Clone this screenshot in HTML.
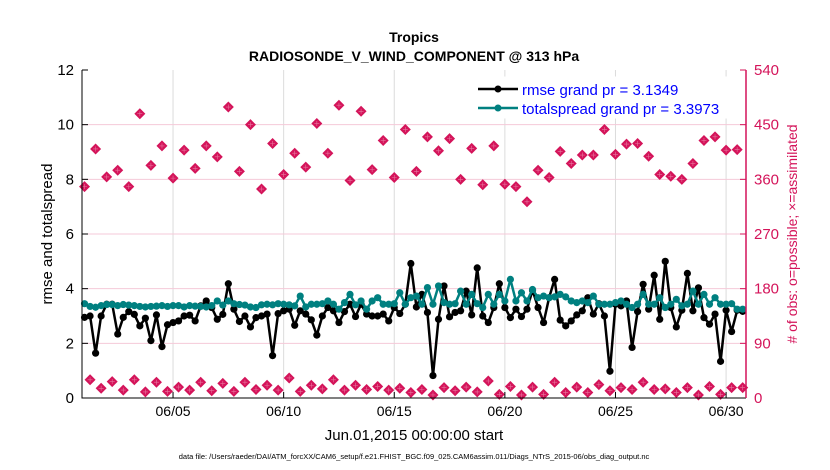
<!DOCTYPE html>
<html><head><meta charset="utf-8"><style>
html,body{margin:0;padding:0;background:#fff;}
svg{display:block;font-family:"Liberation Sans",Arial,sans-serif;}
</style></head><body>
<svg id="chart" width="830" height="470" viewBox="0 0 830 470" xmlns="http://www.w3.org/2000/svg">
<text x="414" y="42" text-anchor="middle" font-size="14" font-weight="bold">Tropics</text>
<text x="414" y="61" text-anchor="middle" font-size="14" font-weight="bold">RADIOSONDE_V_WIND_COMPONENT @ 313 hPa</text>
<g id="grid"></g>
<g id="series"></g>
<g id="axes"></g>
<text transform="translate(52,234) rotate(-90)" text-anchor="middle" font-size="15">rmse and totalspread</text>
<text transform="translate(797,234) rotate(-90)" text-anchor="middle" font-size="14" fill="#d4145a"># of obs: o=possible; ×=assimilated</text>
<text x="414" y="440" text-anchor="middle" font-size="15">Jun.01,2015 00:00:00 start</text>
<text x="414" y="459" text-anchor="middle" font-size="7.5">data file: /Users/raeder/DAI/ATM_forcXX/CAM6_setup/f.e21.FHIST_BGC.f09_025.CAM6assim.011/Diags_NTrS_2015-06/obs_diag_output.nc</text>
<g>
<rect x="474" y="77" width="257" height="41" fill="#fff" stroke="#fff"/>
<line x1="478" y1="89" x2="518" y2="89" stroke="#000" stroke-width="2.5"/>
<circle cx="498" cy="89" r="3.5" fill="#000"/>
<text x="522" y="95" font-size="15" fill="#0000ff">rmse grand pr = 3.1349</text>
<line x1="478" y1="108" x2="518" y2="108" stroke="#008080" stroke-width="2.5"/>
<circle cx="498" cy="108" r="3.5" fill="#008080"/>
<text x="522" y="114" font-size="15" fill="#0000ff">totalspread grand pr = 3.3973</text>
</g>
</svg>
<script>
const rmse = [2.95,3.0,1.64,3.0,3.43,3.43,2.34,2.95,3.16,3.06,2.64,2.92,2.1,3.04,1.88,2.68,2.76,2.82,3.0,3.03,2.82,3.37,3.55,3.31,2.88,3.06,4.18,3.25,2.8,3.0,
2.6,2.94,3.0,3.07,1.55,3.09,3.19,3.25,2.66,3.19,3.07,2.86,2.3,3.0,3.31,3.19,2.76,3.16,3.43,2.98,3.43,3.07,3.0,3.0,3.07,2.82,3.31,3.09,3.43,4.92,
3.33,3.79,3.13,0.82,2.88,4.1,2.97,3.13,3.19,3.91,3.04,4.76,3.0,2.76,3.31,4.18,3.31,2.94,3.25,2.98,3.25,3.94,3.31,2.76,3.67,4.34,2.85,2.64,2.82,3.04,
3.19,3.67,3.07,3.45,3.0,0.98,3.43,3.37,3.55,1.85,3.16,4.16,3.25,4.49,2.88,5.0,3.31,2.6,3.21,4.56,3.19,4.03,2.94,2.7,3.07,1.34,3.21,2.43,3.21,3.17];
const spread = [3.45,3.35,3.32,3.38,3.42,3.42,3.38,3.42,3.4,3.38,3.35,3.33,3.35,3.36,3.38,3.35,3.38,3.38,3.33,3.38,3.36,3.35,3.33,3.38,3.55,3.4,3.55,3.45,3.42,3.4,
3.33,3.31,3.41,3.43,3.41,3.45,3.43,3.41,3.37,3.73,3.33,3.43,3.43,3.45,3.55,3.43,3.25,3.49,3.79,3.41,3.55,3.25,3.55,3.67,3.43,3.43,3.45,3.85,3.43,3.67,
3.73,3.43,4.04,3.43,4.1,3.49,3.43,3.45,3.91,3.43,3.79,3.45,3.31,3.79,3.43,3.79,3.55,4.34,3.55,3.85,3.55,3.97,3.67,3.73,3.67,3.7,3.79,3.7,3.55,3.49,
3.55,3.49,3.73,3.43,3.43,3.43,3.49,3.55,3.43,3.31,3.43,3.79,3.43,3.43,3.67,3.31,3.43,3.61,3.37,3.43,3.91,3.43,3.79,3.43,3.67,3.43,3.43,3.45,3.25,3.25];
const obsHigh = [348,410,364,375,348,468,383,415,362,408,378,415,397,479,373,450,344,419,368,403,380,452,403,482,358,472,376,424,363,442,
373,430,407,427,360,411,351,415,352,348,323,375,363,406,386,400,400,442,401,418,419,398,368,365,360,386,424,430,408,409];
const obsLow = [30,16,27,13,30,10,26,11,18,13,26,12,24,11,26,
14,21,13,33,11,21,15,30,13,21,14,19,13,16,9,
14,5,17,12,18,10,28,6,19,5,18,6,26,9,18,
9,22,12,17,14,26,14,15,9,17,5,19,6,17,17];
const xTickLabels = ['06/05','06/10','06/15','06/20','06/25','06/30'];
const xTickDays = [4,9,14,19,24,29];
const yTicks = [0,2,4,6,8,10,12];
const y2Ticks = [0,90,180,270,360,450,540];

const L=82,R=746,T=70,B=398;
const D0=-0.115,D1=29.9;
const X=d=>L+(d-D0)/(D1-D0)*(R-L);
const Y=v=>B-v/12*(B-T);
const Y2=v=>B-v/540*(B-T);
const NS='http://www.w3.org/2000/svg';
function mk(tag,attrs,parent){const e=document.createElementNS(NS,tag);for(const k in attrs)e.setAttribute(k,attrs[k]);parent.appendChild(e);return e;}
const grid=document.getElementById('grid'),series=document.getElementById('series'),axes=document.getElementById('axes');

xTickDays.forEach((d,i)=>{
  const g=mk('line',{x1:X(d),x2:X(d),y1:T,y2:B,stroke:'#dcdcdc','stroke-width':1},grid);
  
  
  const t=mk('line',{x1:X(d),x2:X(d),y1:B,y2:B-6,stroke:'#000'},axes);
  
  
  const lb=mk('text',{x:X(d),y:B+18,'text-anchor':'middle','font-size':14},axes);
  lb.textContent=xTickLabels[i];
  
  
});
y2Ticks.forEach(v=>{
  if(v>0&&v<540){const g=mk('line',{x1:L,x2:R,y1:Y2(v),y2:Y2(v),stroke:'#f5c9d8','stroke-width':1},grid);
  
  }
  const t=mk('line',{x1:R,x2:R-6,y1:Y2(v),y2:Y2(v),stroke:'#d4145a'},axes);
  
  
  const lb=mk('text',{x:R+8,y:Y2(v)+5,'font-size':15,fill:'#d4145a'},axes);
  lb.textContent=v;
  
  
});
yTicks.forEach(v=>{
  const t=mk('line',{x1:L,x2:L+6,y1:Y(v),y2:Y(v),stroke:'#000'},axes);
  
  
  const lb=mk('text',{x:L-8,y:Y(v)+5,'text-anchor':'end','font-size':15},axes);
  lb.textContent=v;
  
  
});
const ax=mk('path',{d:`M${L},${T}V${B}H${R}`,fill:'none',stroke:'#000','stroke-width':1},axes);


const ax2=mk('line',{x1:R,x2:R,y1:T,y2:B,stroke:'#d4145a','stroke-width':1.5},axes);



function diamond(cx,cy,name){
  const p=mk('path',{d:`M${cx},${cy-5.5}L${cx+5.5},${cy}L${cx},${cy+5.5}L${cx-5.5},${cy}Z`,fill:'#d4145a'},series);
  
  
  mk('path',{d:`M${cx-2.5},${cy}H${cx+2.5}M${cx},${cy-2.5}V${cy+2.5}`,stroke:'#e8779f','stroke-width':0.6},series);
}
obsHigh.forEach((v,k)=>diamond(X(k*0.5),Y2(v),'obs-point'));
obsLow.forEach((v,k)=>diamond(X(k*0.5+0.25),Y2(v),'obs-point'));

function line(vals,color,name){
  const d=vals.map((v,i)=>(i?'L':'M')+X(i*0.25).toFixed(1)+','+Y(v).toFixed(1)).join('');
  const p=mk('path',{d,fill:'none',stroke:color,'stroke-width':2.5,'stroke-linejoin':'round'},series);
  
  
  vals.forEach((v,i)=>{
    const c=mk('circle',{cx:X(i*0.25),cy:Y(v),r:3.6,fill:color},series);
    
    
  });
}
line(rmse,'#000','rmse');
line(spread,'#008080','totalspread');
</script>
</body></html>
